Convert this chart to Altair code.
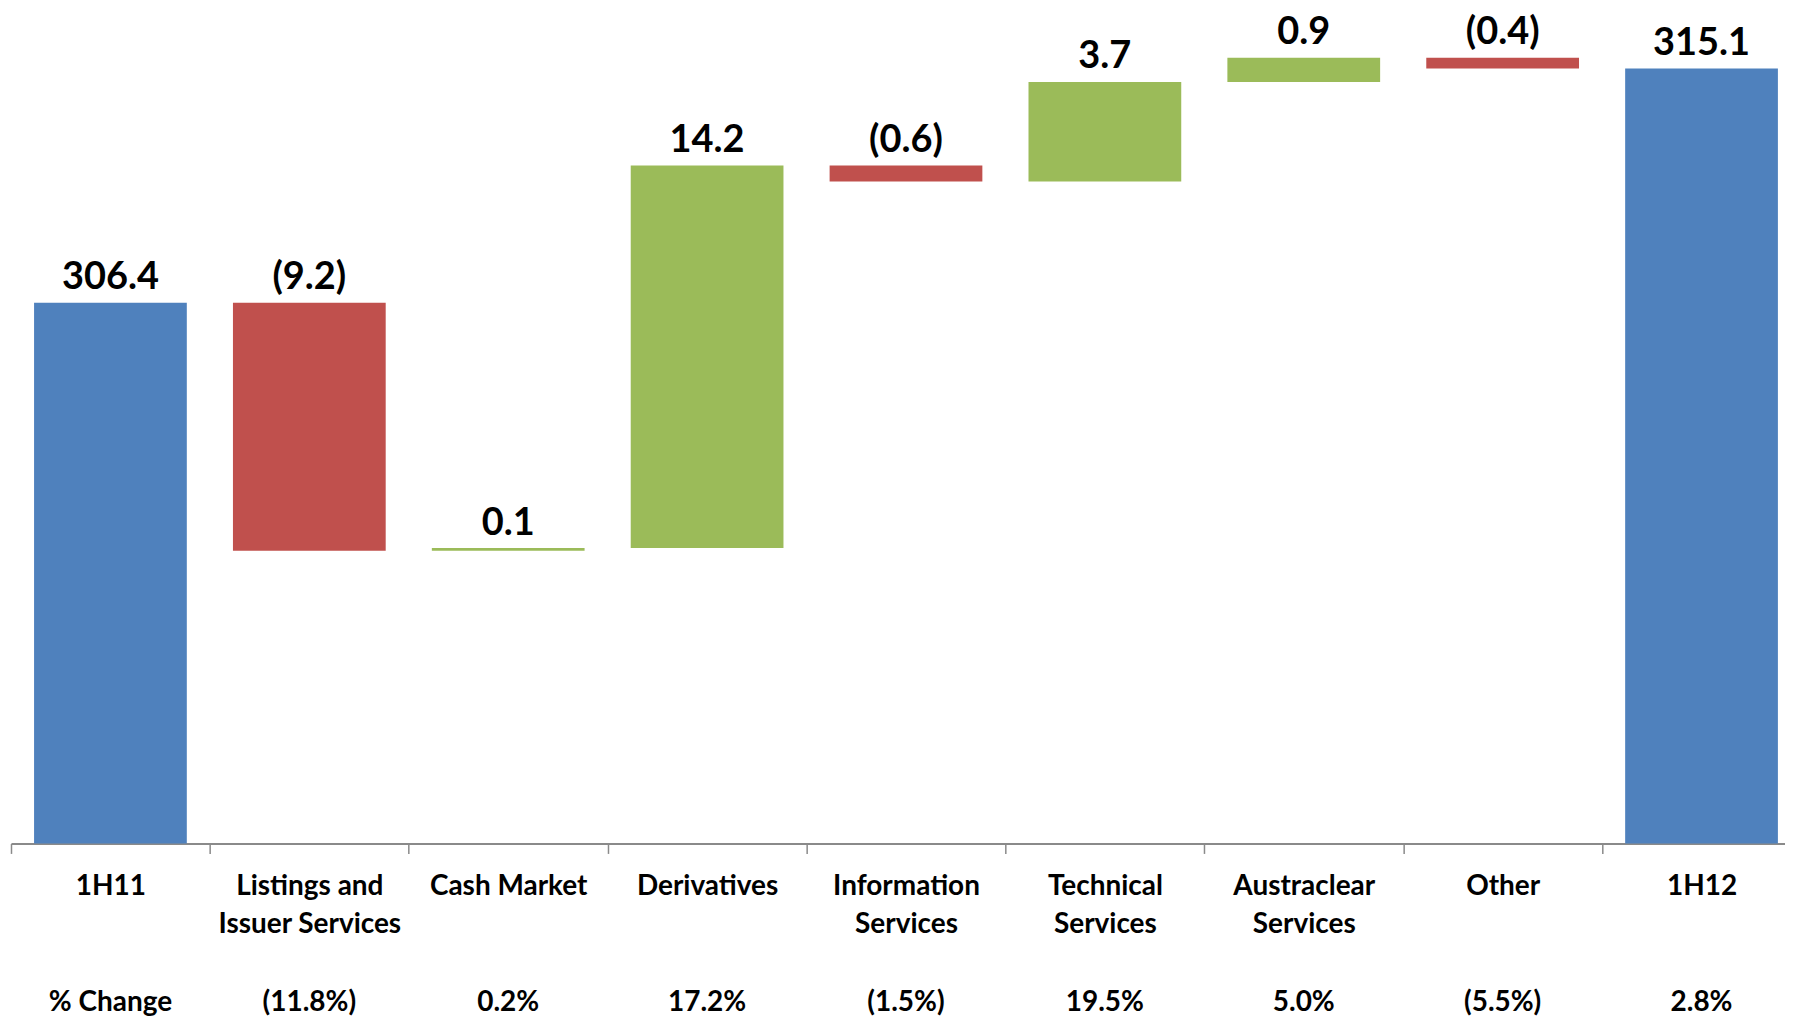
import altair as alt
import pandas as pd

# ---- data ----
categories = ["1H11", "Listings and|Issuer Services", "Cash Market", "Derivatives",
              "Information|Services", "Technical|Services", "Austraclear|Services",
              "Other", "1H12"]
start_total = 306.4
changes = [-9.2, 0.1, 14.2, -0.6, 3.7, 0.9, -0.4]
end_total = 315.1
pct_header = "% Change"
pct_change = [-11.8, 0.2, 17.2, -1.5, 19.5, 5.0, -5.5, 2.8]

# ---- build waterfall table ----
rows = []
rows.append(dict(cat=categories[0], y0=0.0, y1=start_total, kind="total",
                 label=f"{start_total:.1f}"))
running = start_total
for cat, d in zip(categories[1:-1], changes):
    new = round(running + d, 2)
    rows.append(dict(cat=cat, y0=running, y1=new,
                     kind="increase" if d >= 0 else "decrease",
                     label=f"{d:.1f}" if d >= 0 else f"({abs(d):.1f})"))
    running = new
rows.append(dict(cat=categories[-1], y0=0.0, y1=end_total, kind="total",
                 label=f"{end_total:.1f}"))
df = pd.DataFrame(rows)
df["top"] = df[["y0", "y1"]].max(axis=1)

pct_labels = [pct_header] + [f"{p:.1f}%" if p >= 0 else f"({abs(p):.1f}%)" for p in pct_change]
pdf = pd.DataFrame({"cat": categories, "pct": pct_labels})

FONT = "Lato"

xscale = alt.Scale(domain=categories, range=[0, 1793], paddingInner=0, paddingOuter=0,
                   round=False)
yscale = alt.Scale(domain=[286.34, 317.31], zero=False, nice=False)

x_axis = alt.Axis(title=None, labelAngle=0, labelExpr="split(datum.label, '|')",
                  labelFont=FONT, labelFontSize=28, labelFontWeight="bold",
                  labelColor="black", labelLineHeight=38.3, labelPadding=19,
                  labelLimit=400, labelOverlap=False, labelFlush=False,
                  domainColor="#8a8a8a", domainWidth=2, tickColor="#8a8a8a",
                  tickWidth=1.5, tickSize=10, tickBand="extent", grid=False)

base = alt.Chart(df)

bars = base.mark_bar(clip=True, width=alt.RelativeBandSize(0.768)).encode(
    x=alt.X("cat:N", scale=xscale, axis=x_axis, sort=categories),
    y=alt.Y("y0:Q", scale=yscale, axis=None),
    y2="y1:Q",
    color=alt.Color("kind:N",
                    scale=alt.Scale(domain=["total", "decrease", "increase"],
                                    range=["#4F81BD", "#C0504D", "#9BBB59"]),
                    legend=None),
)

values = base.mark_text(font=FONT, fontSize=38, fontWeight="bold", color="black",
                        baseline="alphabetic", dy=-13.5).encode(
    x=alt.X("cat:N", scale=xscale, sort=categories),
    y=alt.Y("top:Q", scale=yscale),
    text="label:N",
)

pct = alt.Chart(pdf).mark_text(font=FONT, fontSize=28, fontWeight="bold", color="black",
                               baseline="alphabetic").encode(
    x=alt.X("cat:N", scale=xscale, sort=categories),
    y=alt.value(1004),
    text="pct:N",
)

chart = alt.layer(bars, values, pct).properties(
    width=1777, height=836,
    autosize=alt.AutoSizeParams(type="none"),
    padding={"left": 3, "top": 0, "right": 0, "bottom": 172},
    background="white",
).configure_view(stroke=None)

chart.save("out.html", embed_options={"renderer": "svg", "actions": False})
